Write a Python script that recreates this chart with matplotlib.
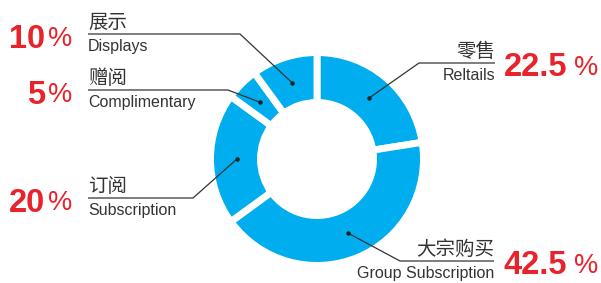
import matplotlib.pyplot as plt
import numpy as np

# data
labels_cn = ["零售", "大宗购买", "订阅", "赠阅", "展示"]
labels_en = ["Reltails", "Group Subscription", "Subscription", "Complimentary", "Displays"]
shares = [22.5, 42.5, 20, 5, 10]
share_text = ["22.5", "42.5", "20", "5", "10"]

W, H = 601, 283
BLUE = "#00AEEF"
RED = "#E8232B"
GREY = "#333333"

plt.rcParams['font.family'] = ['Liberation Sans', 'Noto Sans CJK SC']

fig = plt.figure(figsize=(W / 100, H / 100), dpi=100)
ax = fig.add_axes([0, 0, 1, 1])

cx, cy = 317, H - 159
r_out, r_in = 106.5, 56.5
wedges, _ = ax.pie(shares, center=(cx, cy), radius=r_out, startangle=90,
                   counterclock=False, colors=[BLUE] * len(shares),
                   wedgeprops=dict(width=r_out - r_in, edgecolor='white', linewidth=5))
ax.set_xlim(0, W)
ax.set_ylim(0, H)
ax.set_aspect('equal')
ax.axis('off')

# label layout: (elbow x, elbow y, line end x, side) in pixel coords from top-left
layout = [
    (419, 63, 495, 'right'),
    (400, 261, 494, 'right'),
    (193, 198, 88, 'left'),
    (228, 90, 88, 'left'),
    (240, 34, 88, 'left'),
]

for w, cn, en, pct, (ex, ey, lx, side) in zip(wedges, labels_cn, labels_en, share_text, layout):
    mid = np.deg2rad((w.theta1 + w.theta2) / 2)
    rd = 80
    px, py = cx + rd * np.cos(mid), cy + rd * np.sin(mid)
    ax.plot([px, ex, lx], [py, H - ey, H - ey], color=GREY, lw=0.9, solid_capstyle='butt')
    ax.plot(px, py, 'o', color='#222222', ms=2.2)
    ha = 'left' if side == 'left' else 'right'
    ax.text(lx, H - ey + 11.5, cn, ha=ha, va='center', fontsize=14, color=GREY,
            family=['Noto Sans CJK SC'])
    ax.text(lx, H - ey - 12.5, en, ha=ha, va='center', fontsize=11.5, color=GREY)
    if side == 'left':
        ax.text(45, H - ey - 5, pct, ha='right', va='center', fontsize=23.5,
                fontweight='bold', color=RED)
        ax.text(72, H - ey - 5, "%", ha='right', va='center', fontsize=19.5, color=RED)
    else:
        ax.text(504, H - ey - 5, pct, ha='left', va='center', fontsize=23.5,
                fontweight='bold', color=RED)
        ax.text(598, H - ey - 5, "%", ha='right', va='center', fontsize=19.5, color=RED)

fig.savefig("out.png", dpi=100)
